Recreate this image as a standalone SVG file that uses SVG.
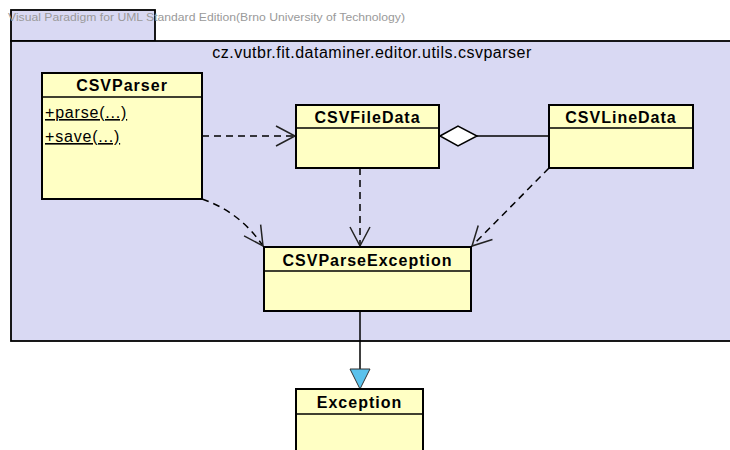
<svg xmlns="http://www.w3.org/2000/svg" width="730" height="450" viewBox="0 0 730 450">
<style>
.pkg{fill:#D9D9F3;stroke:#000;stroke-width:1.8}
.cls{fill:#FFFFC4;stroke:#000;stroke-width:2}
.div{stroke:#000;stroke-width:1.5}
.name{font-family:"Liberation Sans",Arial,sans-serif;font-weight:bold;font-size:16px;letter-spacing:1px;text-anchor:middle;fill:#000}
.op{font-family:"Liberation Sans",Arial,sans-serif;font-size:16px;letter-spacing:0.8px;fill:#000;text-decoration:underline}
.dep{fill:none;stroke:#000;stroke-width:1.5;stroke-dasharray:7 5}
.solid{fill:none;stroke:#000;stroke-width:1.5}
</style>
<defs>
<marker id="open" markerUnits="userSpaceOnUse" markerWidth="24" markerHeight="24" refX="20" refY="11" orient="auto">
<path d="M1,1 L20,11 L1,21" fill="none" stroke="#222" stroke-width="1.5"/>
</marker>
</defs>
<rect width="730" height="450" fill="#fff"/>
<g id="package">
<rect class="pkg" x="11" y="10" width="144" height="31"/>
<rect class="pkg" x="11" y="41" width="730" height="300"/>
<text x="372" y="58" font-family="'Liberation Sans',Arial,sans-serif" font-size="16" letter-spacing="0.5" text-anchor="middle" fill="#000">cz.vutbr.fit.dataminer.editor.utils.csvparser</text>
</g>
<text x="8" y="21" font-family="'Liberation Sans',Arial,sans-serif" font-size="11" fill="#9a9a9a" textLength="397" lengthAdjust="spacingAndGlyphs">Visual Paradigm for UML Standard Edition(Brno University of Technology)</text>
<g id="connectors">
<path class="dep" d="M202,136 L295,136" marker-end="url(#open)"/>
<path class="dep" d="M360,168 L360,246" marker-end="url(#open)"/>
<path class="dep" d="M202,199 Q240,212 263,246" marker-end="url(#open)"/>
<path class="dep" d="M549,168 L472,246" marker-end="url(#open)"/>
<path class="solid" d="M477,136 L549,136"/>
<polygon points="440,136 458,126 477,136 458,146" fill="#fff" stroke="#000" stroke-width="1.5"/>
<path class="solid" d="M360,311 L360,369" stroke-width="2"/>
<polygon points="350,369 370,369 360,389" fill="#5BC2EC" stroke="#333" stroke-width="1"/>
</g>
<g id="CSVParser">
<rect class="cls" x="42" y="73" width="160" height="126"/>
<line class="div" x1="42" y1="97" x2="202" y2="97"/>
<text class="name" x="122" y="91">CSVParser</text>
<text class="op" x="45" y="118">+parse(...)</text>
<text class="op" x="45" y="142">+save(...)</text>
</g>
<g id="CSVFileData">
<rect class="cls" x="296" y="105" width="143" height="63"/>
<line class="div" x1="296" y1="128" x2="439" y2="128"/>
<text class="name" x="367.5" y="123">CSVFileData</text>
</g>
<g id="CSVLineData">
<rect class="cls" x="549" y="105" width="144" height="63"/>
<line class="div" x1="549" y1="128" x2="693" y2="128"/>
<text class="name" x="621" y="123">CSVLineData</text>
</g>
<g id="CSVParseException">
<rect class="cls" x="264" y="247" width="207" height="64"/>
<line class="div" x1="264" y1="271" x2="471" y2="271"/>
<text class="name" x="367.5" y="266">CSVParseException</text>
</g>
<g id="Exception">
<rect class="cls" x="296" y="389" width="127" height="80"/>
<line class="div" x1="296" y1="414" x2="423" y2="414"/>
<text class="name" x="359.5" y="408">Exception</text>
</g>
</svg>
